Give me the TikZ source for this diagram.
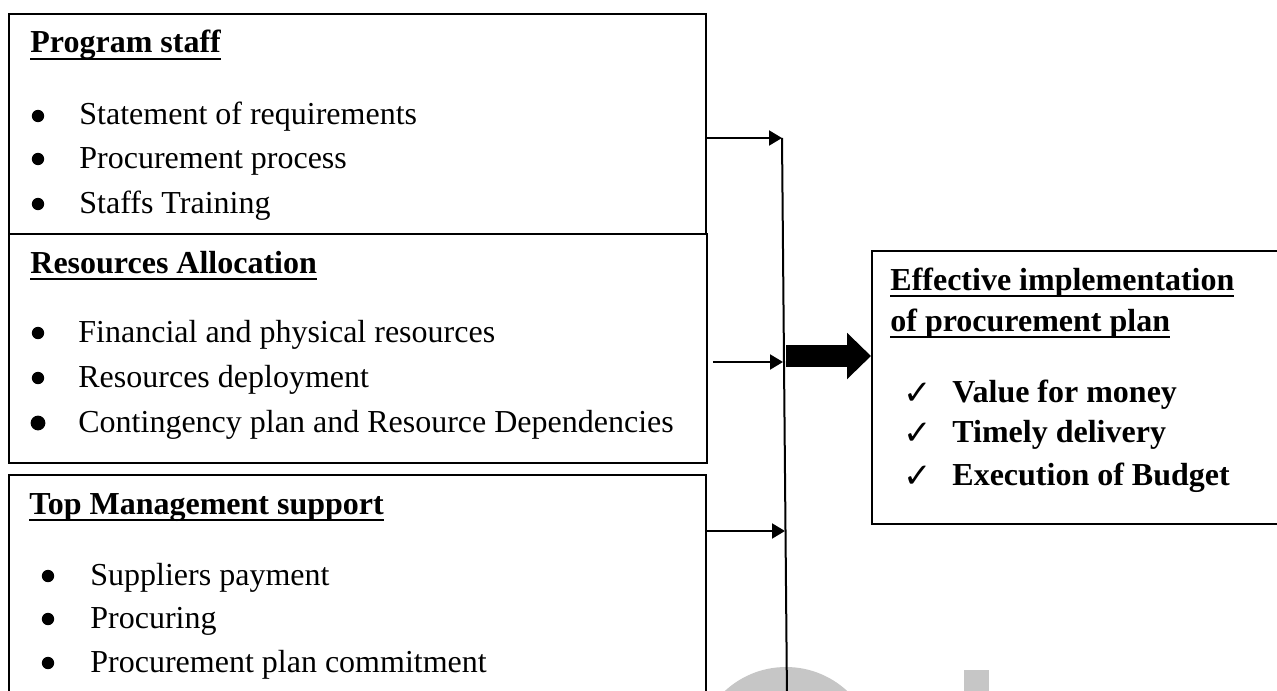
\documentclass[tikz,border=0pt]{standalone}
\usepackage{fontspec}
\setmainfont{Liberation Serif}
\newfontfamily\symfont{DejaVu Sans}
\usetikzlibrary{arrows.meta}

% bold heading with a heavy underline
\newcommand{\heading}[1]{\setbox0=\hbox{\bfseries #1}\rlap{\copy0}\rule[-3.6pt]{\wd0}{1.3pt}}
\newcommand{\tick}{{\symfont\fontsize{17pt}{18pt}\selectfont ✓}}

\tikzset{
  box/.style={draw, line width=0.9pt, anchor=north west, inner sep=0pt},
  txt/.style={anchor=base west, inner sep=0pt, font=\fontsize{16pt}{19pt}\selectfont},
  dot/.style={circle, fill, inner sep=0pt, minimum size=6.2pt},
  feed/.style={line width=1pt, -{Triangle[length=6.5pt,width=7.5pt]}},
  bigarrow/.style={line width=11pt, -{Triangle[length=12pt,width=22.5pt]}},
  wmark/.style={fill=gray!45, draw=none}
}

\begin{document}
\begin{tikzpicture}[x=0.5pt, y=-0.5pt]
      \useasboundingbox (0,0) rectangle (1277,690);
      \clip (0,0) rectangle (1277,690);
      % faint letters at the foot of the page
      \fill[wmark] (786,757) circle (90);
      \fill[wmark] (964,670) rectangle (989,700);

      % the three input boxes and the outcome box
      \node[box, minimum width=348.5pt, minimum height=110pt] (staff) at (8,13) {};
      \node[box, minimum width=349pt, minimum height=114.5pt] (alloc) at (8,233) {};
      \node[box, minimum width=348.5pt, minimum height=125pt] (mgmt) at (8,474) {};
      \node[box, minimum width=215pt, minimum height=136.5pt] (result) at (871,250) {};

      % program staff
      \node[txt] (staff h) at (30,53) {\heading{Program staff}};
      \node[dot] (staff b1) at (38,116) {};
      \node[txt] (staff t1) at (79,125) {Statement of requirements};
      \node[dot] (staff b2) at (38,159) {};
      \node[txt] (staff t2) at (79,168) {Procurement process};
      \node[dot] (staff b3) at (38,204) {};
      \node[txt] (staff t3) at (79,213) {Staffs Training};

      % resources allocation
      \node[txt] (alloc h) at (30,273) {\heading{Resources Allocation}};
      \node[dot] (alloc b1) at (38,333) {};
      \node[txt] (alloc t1) at (78,342) {Financial and physical resources};
      \node[dot] (alloc b2) at (38,378) {};
      \node[txt] (alloc t2) at (78,387) {Resources deployment};
      \node[dot, minimum size=7.4pt] (alloc b3) at (38,423) {};
      \node[txt] (alloc t3) at (78,432) {Contingency plan and Resource Dependencies};

      % top management support
      \node[txt] (mgmt h) at (29,514) {\heading{Top Management support}};
      \node[dot] (mgmt b1) at (48,576) {};
      \node[txt] (mgmt t1) at (90,585) {Suppliers payment};
      \node[dot] (mgmt b2) at (48,619) {};
      \node[txt] (mgmt t2) at (90,628) {Procuring};
      \node[dot] (mgmt b3) at (48,663) {};
      \node[txt] (mgmt t3) at (90,672) {Procurement plan commitment};

      % outcome
      \node[txt] (result h1) at (890,290) {\heading{Effective implementation}};
      \node[txt] (result h2) at (890,331) {\heading{of procurement plan}};
      \node[txt] (result c1) at (903,404) {\tick};
      \node[txt] (result t1) at (952,402) {\bfseries Value for money};
      \node[txt] (result c2) at (903,444) {\tick};
      \node[txt] (result t2) at (952,442) {\bfseries Timely delivery};
      \node[txt] (result c3) at (903,487) {\tick};
      \node[txt] (result t3) at (952,485) {\bfseries Execution of Budget};

      % collecting line and feeds
      \coordinate (bus top) at (782,138);
      \coordinate (bus end) at (787,700);
      \coordinate (in2) at (783,362);
      \coordinate (in3) at (785,531);
      \coordinate (hub) at (786,356);
      \draw[line width=1pt] (bus top) -- (bus end);
      \draw[feed] (staff.east |- bus top) -- (bus top);
      \draw[feed] ([xshift=2.5pt]alloc.east |- in2) -- (in2);
      \draw[feed] ([xshift=-1pt]mgmt.east |- in3) -- (in3);
      \draw[bigarrow] (hub) -- (result.west |- hub);
    \end{tikzpicture}
\end{document}
